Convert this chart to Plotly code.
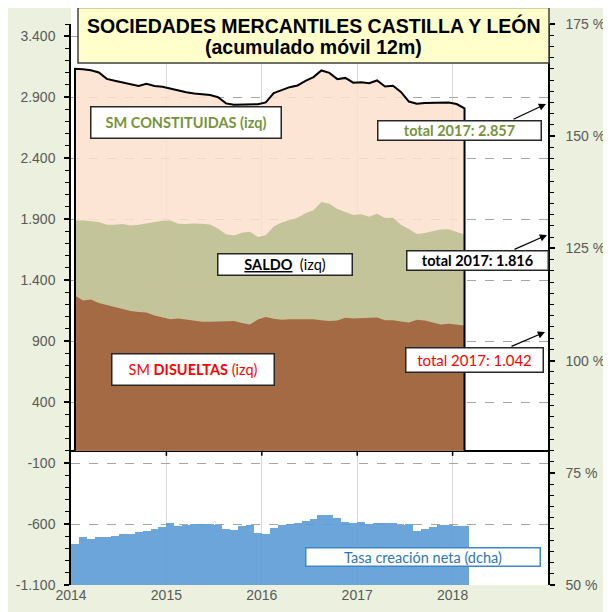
import plotly.graph_objects as go

# ---------------- data ----------------
months = [f"{y}-{m:02d}" for y in range(2014, 2019) for m in range(1, 13)][:50]  # Jan 2014 .. Feb 2018

constituidas = [3133, 3128, 3121, 3103, 3050, 3035, 3019, 3003, 2992, 3010,
                2992, 2986, 2969, 2952, 2941, 2931, 2921, 2917, 2900, 2849,
                2838, 2840, 2842, 2843, 2857, 2933, 2958, 2982, 2996, 3034,
                3065, 3119, 3099, 3048, 3058, 3019, 3023, 3015, 3037, 2988,
                2993, 2943, 2864, 2846, 2852, 2855, 2855, 2857, 2844, 2808]

saldo = [1887, 1891, 1883, 1876, 1853, 1853, 1861, 1848, 1854, 1865,
         1872, 1887, 1888, 1862, 1860, 1865, 1863, 1855, 1822, 1775,
         1766, 1789, 1797, 1754, 1768, 1840, 1873, 1891, 1912, 1948,
         1973, 2041, 2026, 1984, 1961, 1934, 1940, 1919, 1944, 1910,
         1912, 1853, 1819, 1778, 1786, 1801, 1815, 1816, 1793, 1774]

disueltas = [1273, 1232, 1240, 1212, 1195, 1179, 1160, 1146, 1138, 1134,
             1109, 1092, 1080, 1085, 1076, 1062, 1058, 1058, 1059, 1061,
             1064, 1048, 1037, 1076, 1097, 1083, 1075, 1080, 1079, 1078,
             1080, 1071, 1064, 1068, 1092, 1085, 1089, 1094, 1093, 1070,
             1071, 1060, 1053, 1074, 1068, 1052, 1037, 1042, 1035, 1027]

tasa = [59.1, 60.7, 60.2, 60.7, 60.8, 61.0, 61.4, 61.4, 61.8, 62.1,
        62.5, 63.0, 63.8, 63.2, 63.4, 63.7, 63.7, 63.6, 63.3, 62.5,
        62.3, 63.1, 63.4, 61.6, 61.4, 62.8, 63.3, 63.5, 63.8, 64.3,
        64.6, 65.6, 65.5, 65.0, 64.1, 63.9, 64.1, 63.5, 63.8, 63.9,
        63.9, 63.4, 63.6, 62.1, 62.5, 63.0, 63.4, 63.4, 63.2, 63.2]

totals_2017 = {"const": "2.857", "saldo": "1.816", "disu": "1.042"}

left_tickvals = [-1100, -600, -100, 400, 900, 1400, 1900, 2400, 2900, 3400]
left_ticktext = ["-1.100", "-600", "-100", "400", "900", "1.400", "1.900", "2.400", "2.900", "3.400"]
right_tickvals = [50, 75, 100, 125, 150, 175]
right_ticktext = ["50 %", "75 %", "100 %", "125 %", "150 %", "175 %"]
year_ticks = [2014, 2015, 2016, 2017, 2018]

# month -> decimal-year position (centre of month)
xpos = [int(m[:4]) + (int(m[5:]) - 0.5) / 12 for m in months]

# ---------------- layout geometry ----------------
# the page body has an 8px margin, so figure coords = window coords - 8
OFF = 8
W_FIG, H_FIG = 611, 612
L, R, T, B = 63, 71, 16, 35
PW = W_FIG - L - R
PH = H_FIG - T - B


def px(x):
    """window x-pixel -> paper fraction"""
    return (x - OFF - L) / PW


def py(y):
    """window y-pixel -> paper fraction"""
    return (H_FIG - B - (y - OFF)) / PH


fig = go.Figure()

# areas (overlapping, from zero)
fig.add_trace(go.Scatter(x=xpos, y=constituidas, fill="tozeroy", mode="lines",
                         line=dict(width=0), fillcolor="rgba(251,224,206,0.85)",
                         hoverinfo="skip"))
fig.add_trace(go.Scatter(x=xpos, y=saldo, fill="tozeroy", mode="lines",
                         line=dict(width=0), fillcolor="rgba(190,192,147,0.9)",
                         hoverinfo="skip"))
fig.add_trace(go.Scatter(x=xpos, y=disueltas, fill="tozeroy", mode="lines",
                         line=dict(width=0), fillcolor="#A36A44",
                         hoverinfo="skip"))
# black outline of constituidas
fig.add_trace(go.Scatter(x=[xpos[0]] + xpos + [xpos[-1]],
                         y=[0] + constituidas + [0], mode="lines",
                         line=dict(color="black", width=2)))

# bars on right axis
fig.add_trace(go.Bar(x=xpos, y=tasa, yaxis="y2", width=1 / 12,
                     marker=dict(color="rgba(91,155,213,0.9)", line=dict(width=0)),
                     base=0))

tickfont = dict(family="Liberation Sans, Arial", size=14, color="#595959")

fig.update_layout(
    width=W_FIG, height=H_FIG,
    margin=dict(l=L, r=R, t=T, b=B, autoexpand=False),
    paper_bgcolor="#EBF1DE", plot_bgcolor="white",
    showlegend=False, bargap=0,
    xaxis=dict(range=[2014, 2019], tickvals=year_ticks, automargin=False,
               ticktext=[str(y) for y in year_ticks], tickfont=tickfont,
               showgrid=True, gridcolor="#D9D9D9", gridwidth=1,
               showline=False, ticks="", zeroline=False),
    yaxis=dict(range=[-1100, 3500], tickvals=left_tickvals, ticktext=left_ticktext,
               tickfont=tickfont, showgrid=True, gridcolor="#A6A6A6",
               griddash="dash", gridwidth=1, automargin=False,
               showline=True, linecolor="black", linewidth=1.5,
               ticks="outside", ticklen=5, tickcolor="black", tickwidth=1.5,
               minor=dict(dtick=100, tick0=-1100, ticks="outside", ticklen=4,
                          tickcolor="black", tickwidth=1.2, showgrid=False),
               zeroline=True, zerolinecolor="black", zerolinewidth=1.5,
               ticklabelstandoff=6),
    yaxis2=dict(range=[50, 175], overlaying="y", side="right", automargin=False,
                tickvals=right_tickvals, ticktext=right_ticktext, tickfont=tickfont,
                showgrid=False, zeroline=False,
                showline=True, linecolor="black", linewidth=1.5,
                ticks="outside", ticklen=5, tickcolor="black", tickwidth=1.5,
                minor=dict(dtick=2.5, tick0=50, ticks="outside", ticklen=4,
                           tickcolor="black", tickwidth=1.2, showgrid=False),
                ticklabelstandoff=8),
)

shapes = []
# white strip above the plot area
shapes.append(dict(type="rect", xref="paper", yref="paper", x0=0, x1=1,
                   y0=1, y1=py(6), fillcolor="white", line=dict(width=0), layer="below"))
# year ticks hanging from the zero line
for yv in year_ticks[1:]:
    shapes.append(dict(type="line", xref="x", yref="y", x0=yv, x1=yv,
                       ysizemode="pixel", yanchor=0, y0=0, y1=-5,
                       line=dict(color="black", width=1.5)))
# title box
shapes.append(dict(type="rect", xref="paper", yref="paper", x0=px(78), x1=px(549),
                   y0=py(63), y1=py(7.5), fillcolor="#FFFFCC",
                   line=dict(color="#404040", width=1.5), layer="above"))
fig.update_layout(shapes=shapes)

title_font = dict(family="Liberation Sans, Arial", size=19.5, color="black")
ann = []
ann.append(dict(xref="paper", yref="paper", x=px(313.5), y=py(26), showarrow=False,
                text="<b>SOCIEDADES MERCANTILES CASTILLA Y LEÓN</b>", font=title_font,
                xanchor="center", yanchor="middle", align="center"))
ann.append(dict(xref="paper", yref="paper", x=px(313.5), y=py(47), showarrow=False,
                text="<b>(acumulado móvil 12m)</b>", font=title_font,
                xanchor="center", yanchor="middle", align="center"))

lab_font = "Lato, Carlito, Calibri, sans-serif"


def box(x0, x1, y0, y1, text, color, border="#262626", size=14.5):
    return dict(xref="paper", yref="paper", x=px((x0 + x1) / 2), y=py((y0 + y1) / 2),
                showarrow=False, text=text, xanchor="center", yanchor="middle",
                width=x1 - x0 - 3, height=y1 - y0 - 3, borderpad=0,
                bgcolor="white", bordercolor=border, borderwidth=1.5,
                font=dict(family=lab_font, size=size, color=color), align="center")


ann.append(box(90, 282, 106, 139, "<b>SM CONSTITUIDAS (izq)</b>", "#77933C"))
ann.append(box(217, 353, 253, 276,
               "<b><span style='text-decoration:underline'>SALDO</span></b>&nbsp;&nbsp;(izq)",
               "black"))
ann.append(box(111, 275, 353, 386, "SM <b>DISUELTAS</b> (izq)", "#FF0000"))
ann.append(box(377, 542, 120, 141, "<b>total 2017: " + totals_2017["const"] + "</b>", "#77933C"))
ann.append(box(406, 549, 250, 271, "<b>total 2017: " + totals_2017["saldo"] + "</b>", "black"))
ann.append(box(405, 544, 347, 373, "total 2017: " + totals_2017["disu"], "#FF0000", size=15))
ann.append(box(305, 541, 547, 567, "Tasa creación neta (dcha)", "#2E75B6",
               border="#3C87C8", size=14.5))


def arrow(tipx, tipy, tailx, taily):
    return dict(xref="paper", yref="paper", x=px(tipx), y=py(tipy),
                ax=tailx - tipx, ay=taily - tipy, axref="pixel", ayref="pixel",
                text="", showarrow=True, arrowhead=2, arrowsize=1.2,
                arrowwidth=1.2, arrowcolor="black", standoff=0)


ann.append(arrow(546, 104, 512, 120))
ann.append(arrow(547, 235, 513, 250))
ann.append(arrow(545, 332, 510, 347))

fig.update_layout(annotations=ann)

fig.write_html("out.html")
